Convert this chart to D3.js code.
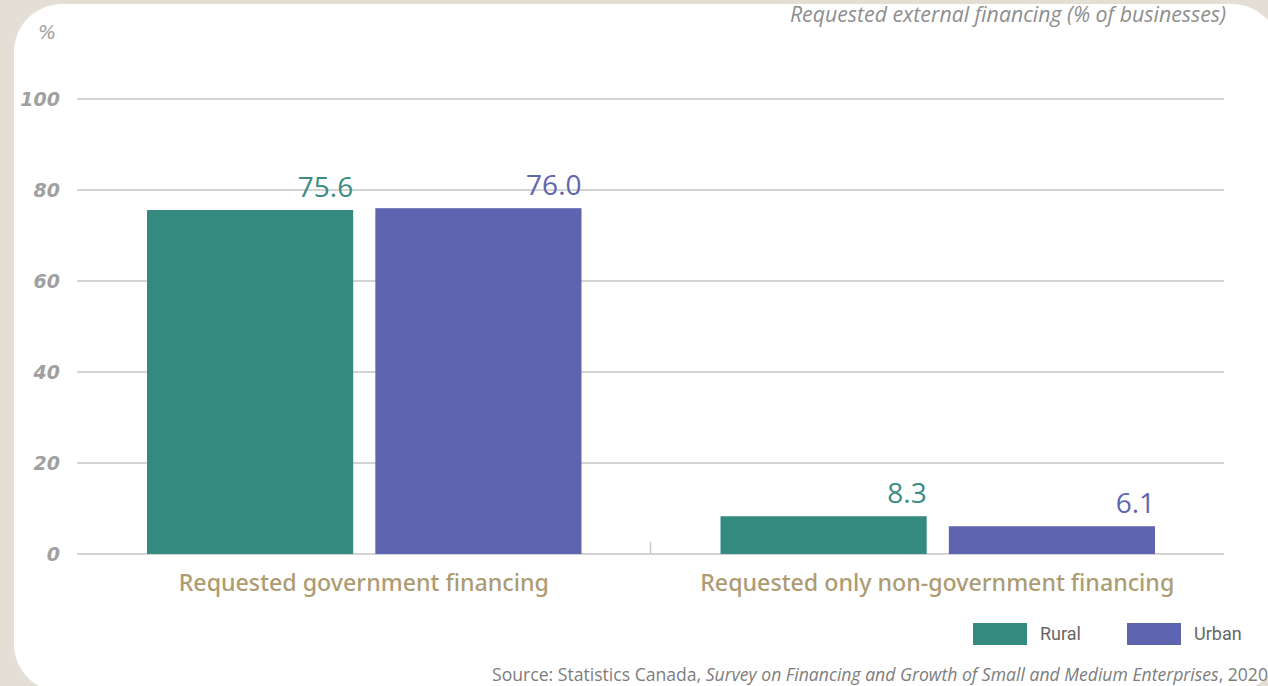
<!DOCTYPE html>
<html>
<head>
<meta charset="utf-8">
<script src="https://cdn.jsdelivr.net/npm/d3@7"></script>
<style>
  body { margin: 0; background: #e4dfd5; }
  svg { display: block; }
</style>
</head>
<body>
<div id="chart-area"></div>
<script>
// Data
var categories = ["Requested government financing", "Requested only non-government financing"];
var seriesNames = ["Rural", "Urban"];
var rural = [75.6, 8.3];
var urban = [76.0, 6.1];
var yTicks = [0, 20, 40, 60, 80, 100];
var colors = ["#358a80", "#5f64b0"];
var labelColors = ["#3b8c82", "#6165b0"];

var W = 1268, H = 686;
var margin = {top: 99, right: 44, bottom: 132, left: 77};
var width = W - margin.left - margin.right,
    height = H - margin.top - margin.bottom;

var svg = d3.select("#chart-area").append("svg")
    .attr("width", W).attr("height", H);

// white panel
svg.append("rect")
    .attr("x", 14).attr("y", 4)
    .attr("width", 1266).attr("height", 688)
    .attr("rx", 48).attr("ry", 48)
    .attr("fill", "#ffffff");

var g = svg.append("g")
    .attr("transform", "translate(" + margin.left + "," + margin.top + ")");

var x0 = d3.scaleBand().domain(categories).range([0, width]).paddingInner(0).paddingOuter(0);
var x1 = d3.scaleBand().domain(seriesNames).range([70, x0.bandwidth() - 69]).paddingInner(0.097);
var y = d3.scaleLinear().domain([0, 100]).range([height, 0]);

// gridlines
g.append("g")
    .selectAll("line").data(yTicks).enter().append("line")
    .attr("x1", 0).attr("x2", width)
    .attr("y1", function(d) { return y(d); })
    .attr("y2", function(d) { return y(d); })
    .attr("stroke", "#c4c4c4").attr("stroke-width", 1.3);

// y tick labels
g.append("g")
    .selectAll("text").data(yTicks).enter().append("text")
    .attr("x", -17)
    .attr("y", function(d) { return y(d); })
    .attr("dy", "0.35em")
    .attr("text-anchor", "end")
    .attr("font-family", "'DejaVu Sans', sans-serif")
    .attr("font-style", "italic")
    .attr("font-weight", 700)
    .attr("font-size", 19)
    .attr("fill", "#a0a0a0")
    .text(function(d) { return d; });

svg.append("text")
    .attr("x", 47).attr("y", 39)
    .attr("text-anchor", "middle")
    .attr("font-family", "'DejaVu Sans', sans-serif")
    .attr("font-style", "italic")
    .attr("font-size", 19)
    .attr("fill", "#a0a0a0")
    .text("%");

// category separator tick
g.append("line")
    .attr("x1", x0.bandwidth()).attr("x2", x0.bandwidth())
    .attr("y1", height - 12).attr("y2", height)
    .attr("stroke", "#c4c4c4").attr("stroke-width", 1.3);

// bars
var rows = categories.map(function(c, i) {
    return {cat: c, values: [{key: "Rural", v: rural[i], s: 0}, {key: "Urban", v: urban[i], s: 1}]};
});

var groups = g.selectAll(".grp").data(rows).enter().append("g")
    .attr("class", "grp")
    .attr("transform", function(d) { return "translate(" + x0(d.cat) + ",0)"; });

groups.selectAll("rect").data(function(d) { return d.values; }).enter().append("rect")
    .attr("x", function(d) { return x1(d.key); })
    .attr("y", function(d) { return y(d.v); })
    .attr("width", x1.bandwidth())
    .attr("height", function(d) { return height - y(d.v); })
    .attr("fill", function(d) { return colors[d.s]; });

groups.selectAll(".val").data(function(d) { return d.values; }).enter().append("text")
    .attr("class", "val")
    .attr("x", function(d) { return x1(d.key) + x1.bandwidth(); })
    .attr("y", function(d) { return y(d.v) - 13; })
    .attr("text-anchor", "end")
    .attr("font-family", "'Open Sans', sans-serif")
    .attr("font-size", 28)
    .attr("fill", function(d) { return labelColors[d.s]; })
    .text(function(d) { return d.v.toFixed(1); });

// category labels
g.selectAll(".cat").data(categories).enter().append("text")
    .attr("class", "cat")
    .attr("x", function(d) { return x0(d) + x0.bandwidth() / 2; })
    .attr("y", height + 37)
    .attr("text-anchor", "middle")
    .attr("font-family", "'Noto Sans', sans-serif")
    .attr("font-weight", 500)
    .attr("font-size", 23.2)
    .attr("fill", "#ad9b72")
    .text(function(d) { return d; });

// title
svg.append("text")
    .attr("x", 1226).attr("y", 22)
    .attr("text-anchor", "end")
    .attr("font-family", "'Open Sans', sans-serif")
    .attr("font-style", "italic")
    .attr("font-size", 21.3)
    .attr("fill", "#8e8e8e")
    .text("Requested external financing (% of businesses)");

// legend
var legendX = [973, 1127];
var legend = svg.selectAll(".leg").data(seriesNames).enter().append("g")
    .attr("class", "leg")
    .attr("transform", function(d, i) { return "translate(" + legendX[i] + ",623)"; });
legend.append("rect")
    .attr("width", 54).attr("height", 22)
    .attr("fill", function(d, i) { return colors[i]; });
legend.append("text")
    .attr("x", 67).attr("y", 11).attr("dy", "0.35em")
    .attr("font-family", "Roboto, sans-serif")
    .attr("font-size", 18)
    .attr("fill", "#666")
    .text(function(d) { return d; });

// source
var src = svg.append("text")
    .attr("x", 1268).attr("y", 681)
    .attr("text-anchor", "end")
    .attr("font-family", "'Open Sans', sans-serif")
    .attr("font-size", 17.6)
    .attr("fill", "#7d7d7d");
src.append("tspan").text("Source: Statistics Canada, ");
src.append("tspan").attr("font-style", "italic").text("Survey on Financing and Growth of Small and Medium Enterprises");
src.append("tspan").text(", 2020");
</script>
</body>
</html>
